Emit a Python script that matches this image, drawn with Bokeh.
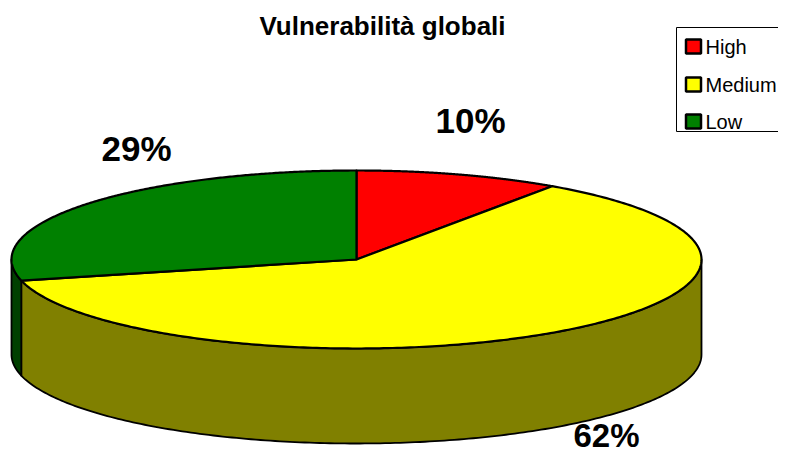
import numpy as np
from bokeh.plotting import figure
from bokeh.models import Range1d
from bokeh.embed import file_html
from bokeh.resources import INLINE
from bokeh.core.properties import value

# ---- data ----
categories = ["High", "Medium", "Low"]
shares = [9.6, 61.6, 28.8]          # slice sizes (percent), estimated from slice geometry
pct_labels = ["10%", "62%", "29%"]  # labels as printed
title_text = "Vulnerabilità globali"

# ---- styles ----
top_colors = ["#FF0000", "#FFFF00", "#008000"]
side_colors = ["#800000", "#808000", "#004000"]
FONT = "Liberation Sans"

W, H = 778, 459
p = figure(width=W, height=H, x_range=Range1d(0, W), y_range=Range1d(H, 0),
           output_backend="svg", toolbar_location=None, min_border=0)
p.axis.visible = False
p.grid.visible = False
p.outline_line_color = None
p.background_fill_color = "white"
p.border_fill_color = "white"

cx, cy, rx, ry, depth = 356.0, 259.0, 345.0, 89.0, 95.0


def pt(theta_deg, dy=0.0):
    t = np.radians(theta_deg)
    return cx + rx * np.sin(t), cy - ry * np.cos(t) + dy


fr = np.array(shares, dtype=float)
fr = fr / fr.sum()
ends = np.cumsum(fr) * 360.0
starts = np.concatenate([[0.0], ends[:-1]])

# side walls (front half: 90..270 degrees)
wx, wy, wc = [], [], []
for a, b, c in zip(starts, ends, side_colors):
    lo, hi = max(a, 90.0), min(b, 270.0)
    if hi <= lo:
        continue
    th = np.linspace(lo, hi, 200)
    tx, ty = pt(th)
    bx, by = pt(th[::-1], depth)
    wx.append(list(np.concatenate([tx, bx])))
    wy.append(list(np.concatenate([ty, by])))
    wc.append(c)
p.patches(wx, wy, fill_color=wc, line_color="black", line_width=1.8, line_join="round")

# top faces
sx, sy = [], []
for a, b in zip(starts, ends):
    th = np.linspace(a, b, 300)
    ax_, ay_ = pt(th)
    sx.append([cx] + list(ax_))
    sy.append([cy] + list(ay_))
p.patches(sx, sy, fill_color=top_colors, line_color="black", line_width=2.2, line_join="round")

# percentage labels (upper two)
p.text(x=[470, 136], y=[120, 148], text=[pct_labels[0], pct_labels[2]], text_font=value(FONT),
       text_font_style="bold", text_font_size="35px", text_align="center",
       text_baseline="middle", text_color="black")
# lower label, kept inside the frame
p.text(x=[606], y=[435], text=[pct_labels[1]], text_font=value(FONT),
       text_font_style="bold", text_font_size="33px", text_align="center",
       text_baseline="middle", text_color="black")

# title
p.text(x=[382], y=[25], text=[title_text], text_font=value(FONT), text_font_style="bold",
       text_font_size="26px", text_align="center", text_baseline="middle", text_color="black")

# legend box
p.quad(left=[676], right=[820], top=[27], bottom=[131], fill_color="white",
       line_color="black", line_width=1)
leg_y = [46, 84, 121]
p.rect(x=[693] * 3, y=leg_y, width=15, height=14, fill_color=top_colors,
       line_color="black", line_width=2.5)
p.text(x=[705] * 3, y=leg_y, text=categories, text_font=value(FONT), text_font_size="20px",
       text_align="left", text_baseline="middle", text_color="black")

open("out.html", "w").write(file_html(p, INLINE))
